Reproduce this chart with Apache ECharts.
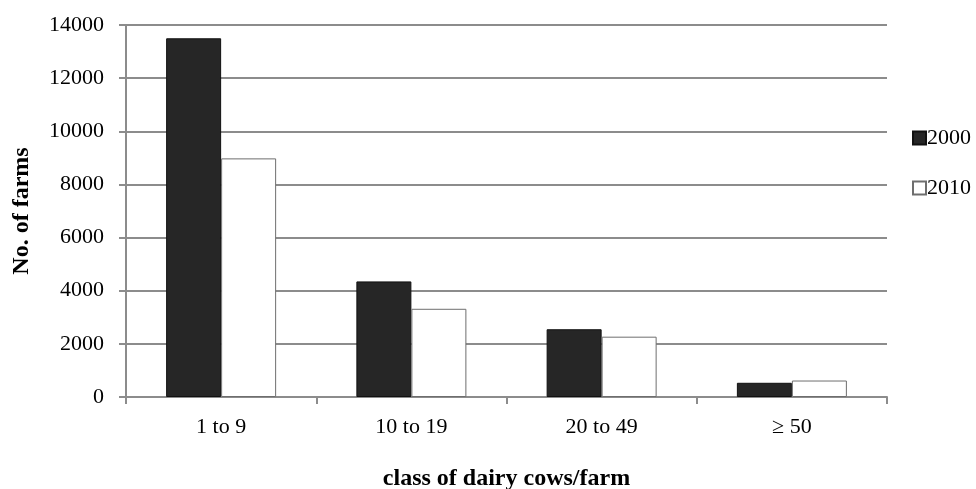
<!DOCTYPE html>
<html>
<head>
<meta charset="utf-8">
<script src="https://cdn.jsdelivr.net/npm/echarts@6/dist/echarts.min.js"></script>
<style>
  html, body { margin: 0; padding: 0; background: #fff; }
  #chart { width: 976px; height: 489px; }
</style>
</head>
<body>
<div id="chart"></div>
<script>
const categories = ['1 to 9', '10 to 19', '20 to 49', '≥ 50']
const farms2000 = [13500, 4350, 2550, 535]
const farms2010 = [8980, 3320, 2270, 620]
const yTicks = [0, 2000, 4000, 6000, 8000, 10000, 12000, 14000]

const font = '"Liberation Serif", "DejaVu Serif", serif'
const gridColor = '#8c8c8c'

const chart = echarts.init(document.getElementById('chart'))

chart.setOption({
  animation: false,
  textStyle: { fontFamily: font, color: '#000' },
  grid: { left: 126, right: 89, top: 25, bottom: 92, outerBoundsMode: 'none' },
  legend: {
    orient: 'vertical',
    left: 907,
    top: 121,
    itemWidth: 13,
    itemHeight: 13,
    itemGap: 26,
    icon: 'rect',
    textStyle: { fontFamily: font, fontSize: 22, lineHeight: 24, color: '#000', padding: [0, 0, 0, -4] },
    data: ['2000', '2010'],
  },
  xAxis: {
    type: 'category',
    data: categories,
    name: 'class of dairy cows/farm',
    nameLocation: 'middle',
    nameGap: 70,
    nameTextStyle: { fontFamily: font, fontSize: 24, fontWeight: 'bold', color: '#000' },
    axisLine: { lineStyle: { color: gridColor, width: 2 } },
    axisTick: { show: true, alignWithLabel: false, length: 7, lineStyle: { color: gridColor, width: 2 } },
    axisLabel: { fontFamily: font, fontSize: 22, color: '#000', margin: 19 },
  },
  yAxis: {
    type: 'value',
    min: 0,
    max: 14000,
    interval: 2000,
    name: 'No. of farms',
    nameLocation: 'middle',
    nameGap: 92,
    nameTextStyle: { fontFamily: font, fontSize: 24, fontWeight: 'bold', color: '#000' },
    axisLine: { show: true, lineStyle: { color: gridColor, width: 2 } },
    axisTick: { show: true, length: 7, lineStyle: { color: gridColor, width: 2 } },
    axisLabel: {
      fontFamily: font, fontSize: 22, color: '#000', margin: 22,
      formatter: v => yTicks.includes(v) ? String(v) : '',
    },
    splitLine: { lineStyle: { color: gridColor, width: 2 } },
  },
  series: [
    {
      name: '2000',
      type: 'bar',
      data: farms2000,
      barWidth: 55,
      barGap: '0%',
      itemStyle: { color: '#262626', borderColor: '#111', borderWidth: 1 },
    },
    {
      name: '2010',
      type: 'bar',
      data: farms2010,
      barWidth: 55,
      itemStyle: { color: '#fff', borderColor: '#6e6e6e', borderWidth: 1 },
    },
  ],
})
</script>
</body>
</html>
